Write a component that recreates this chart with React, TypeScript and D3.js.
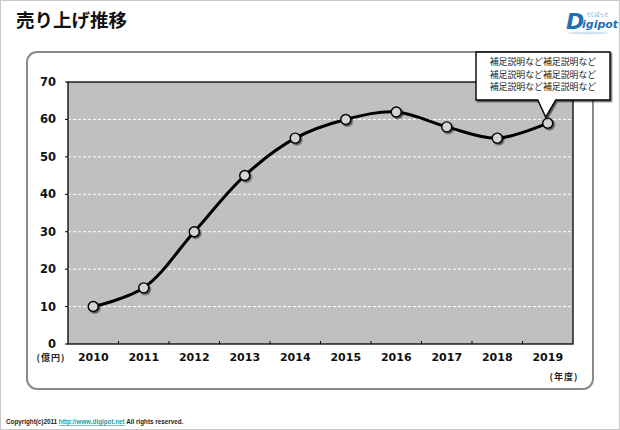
import React from "react";
import * as d3 from "d3";

const years = ["2010", "2011", "2012", "2013", "2014", "2015", "2016", "2017", "2018", "2019"];
const sales = [10, 15, 30, 45, 55, 60, 62, 58, 55, 59];
const yTicks = [0, 10, 20, 30, 40, 50, 60, 70];
const title = "売り上げ推移";
const noteLines = ["補足説明など補足説明など", "補足説明など補足説明など", "補足説明など補足説明など"];
const yUnit = "(億円)";
const xUnit = "(年度)";

const W = 620;
const H = 430;
const plot = { left: 68, top: 82, right: 573, bottom: 344 };

export default function App() {
  const x = d3.scaleBand().domain(years).range([plot.left, plot.right]).paddingInner(0).paddingOuter(0);
  const y = d3.scaleLinear().domain([0, 70]).range([plot.bottom, plot.top]);
  const cx = (d: string) => (x(d) as number) + x.bandwidth() / 2;
  const line = d3
    .line<number>()
    .x((_, i) => cx(years[i]))
    .y((v) => y(v))
    .curve(d3.curveCatmullRom.alpha(0.5));
  const pathD = line(sales) || "";
  const numFont = "'DejaVu Sans', Verdana, sans-serif";
  const jpFont = "'Noto Sans CJK JP', sans-serif";

  const lastX = cx(years[years.length - 1]);
  const lastY = y(sales[sales.length - 1]);
  const box = { x: 476, y: 52, w: 134, h: 48 };

  return (
    <svg width={W} height={H} style={{ position: "absolute", left: 0, top: 0, background: "#fff" }}>
      <defs>
        <filter id="sh" x="-20%" y="-20%" width="150%" height="150%">
          <feDropShadow dx="1.5" dy="1.5" stdDeviation="0.6" floodColor="#000" floodOpacity="0.55" />
        </filter>
      </defs>
      <rect x={0.5} y={0.5} width={W - 1} height={H - 1} fill="#fff" stroke="#c8c8c8" />
      <text x={16} y={27} fontFamily={jpFont} fontWeight="bold" fontSize={18.5} fill="#111">
        {title}
      </text>
      {/* logo */}
      <g>
        <text x={566} y={29} fontFamily="'DejaVu Sans', sans-serif" fontWeight="bold" fontSize={22} fill="#1f6fb3" fontStyle="italic">
          D
        </text>
        <text x={582} y={28} fontFamily="'DejaVu Sans', sans-serif" fontWeight="bold" fontSize={11} fill="#1f6fb3" fontStyle="italic">
          igipot
        </text>
        <text x={586} y={16} fontFamily={jpFont} fontSize={4.5} fill="#3a86c8">
          でじぽっと
        </text>
        <ellipse cx={588} cy={33} rx={20} ry={1.5} fill="#cfe3f3" />
      </g>

      {/* panel */}
      <rect x={27} y={52} width={566} height={337} rx={10} ry={10} fill="#fff" stroke="#8a8a8a" strokeWidth={2} />

      {/* plot area */}
      <rect x={plot.left} y={plot.top} width={plot.right - plot.left} height={plot.bottom - plot.top} fill="#c0c0c0" />
      {yTicks.slice(1, -1).map((t) => (
        <line key={t} x1={plot.left} x2={plot.right} y1={y(t)} y2={y(t)} stroke="#fff" strokeWidth={1} strokeDasharray="3,2" />
      ))}
      <rect x={plot.left} y={plot.top} width={plot.right - plot.left} height={plot.bottom - plot.top} fill="none" stroke="#000" strokeWidth={1.3} />
      {yTicks.map((t) => (
        <g key={t}>
          <line x1={plot.left - 3} x2={plot.left} y1={y(t)} y2={y(t)} stroke="#000" strokeWidth={1} />
          <text x={56} y={y(t) + 4} textAnchor="end" fontFamily={numFont} fontWeight="bold" fontSize={11.5} fill="#111">
            {t}
          </text>
        </g>
      ))}
      {years.slice(1).map((yr) => (
        <line key={yr} x1={x(yr) as number} x2={x(yr) as number} y1={plot.bottom} y2={plot.bottom - 3} stroke="#000" strokeWidth={1} />
      ))}
      {years.map((yr) => (
        <text key={yr} x={cx(yr)} y={361} textAnchor="middle" fontFamily={numFont} fontWeight="bold" fontSize={11} fill="#111">
          {yr}
        </text>
      ))}
      <text x={51} y={361} textAnchor="middle" fontFamily={jpFont} fontWeight="bold" fontSize={9} letterSpacing={1} fill="#222">
        {yUnit}
      </text>
      <text x={564} y={380} textAnchor="middle" fontFamily={jpFont} fontWeight="bold" fontSize={9} letterSpacing={1} fill="#222">
        {xUnit}
      </text>

      {/* line */}
      <path d={pathD} fill="none" stroke="#000" strokeWidth={3} strokeLinejoin="round" />
      {sales.map((v, i) => (
        <circle key={i} cx={cx(years[i])} cy={y(v)} r={5} fill="#d4d4d4" stroke="#000" strokeWidth={1.4} filter="url(#sh)" />
      ))}

      {/* callout */}
      <g filter="url(#sh)">
        <path
          d={`M${box.x},${box.y} H${box.x + box.w} V${box.y + box.h} H${lastX + 8} L${lastX - 2},${lastY - 6} L${lastX - 10},${box.y + box.h} H${box.x} Z`}
          fill="#fff"
          stroke="#000"
          strokeWidth={1.4}
        />
      </g>
      {noteLines.map((l, i) => (
        <text key={i} x={box.x + box.w / 2} y={box.y + 13 + i * 12.5} textAnchor="middle" fontFamily={jpFont} fontSize={8.9} fill="#222">
          {l}
        </text>
      ))}

      {/* copyright */}
      <text x={6} y={424} fontFamily="'Liberation Sans', Arial, sans-serif" fontWeight="bold" fontSize={6.3} fill="#222">
        Copyright(c)2011{" "}
        <tspan fill="#2a9d9d" textDecoration="underline">http://www.digipot.net</tspan> All rights reserved.
      </text>
    </svg>
  );
}
